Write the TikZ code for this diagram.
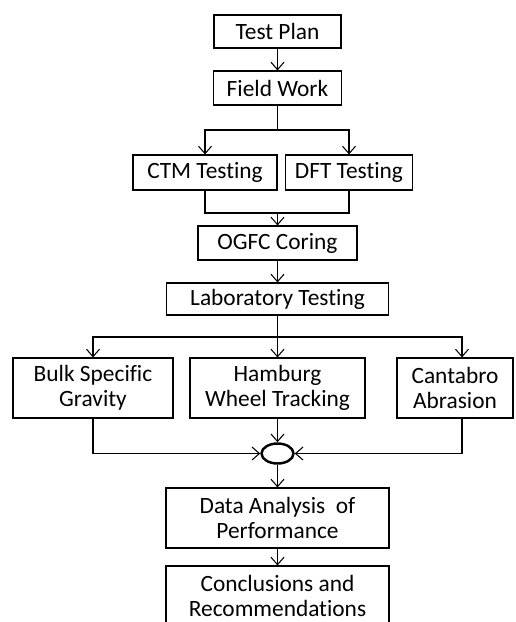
\documentclass[tikz,border=0pt]{standalone}
\usepackage{fontspec}
\setmainfont{Carlito}[Ligatures=NoCommon]
\usetikzlibrary{arrows.meta,shapes.geometric}
\begin{document}
\begin{tikzpicture}[x=0.02cm,y=-0.02cm,>={Straight Barb[length=1.5mm,width=2.6mm]},line width=0.6pt,
		font=\fontsize{13.3}{14.2}\selectfont,
		box/.style={draw,rectangle,inner sep=0pt,align=center},
		hub/.style={draw,ellipse,line width=1.4pt,minimum width=0.64cm,minimum height=0.40cm,inner sep=0pt}]
	\def\cx{277.5} % main column
	\useasboundingbox (0,0) rectangle (515,622);
	% field stage
	\node[box,minimum width=2.54cm,minimum height=0.66cm] (plan) at (\cx,31.5) {Test Plan};
	\node[box,minimum width=2.56cm,minimum height=0.68cm] (field) at (\cx,88) {Field Work};
	\node[box,minimum width=2.88cm,minimum height=0.70cm] (ctm) at (205,172.5) {CTM Testing};
	\node[box,minimum width=2.54cm,minimum height=0.70cm] (dft) at (349,172.5) {DFT Testing};
	\node[box,minimum width=3.18cm,minimum height=0.68cm] (ogfc) at (\cx,243) {OGFC Coring};
	% laboratory stage
	\node[box,minimum width=4.44cm,minimum height=0.64cm] (lab) at (\cx,299) {Laboratory Testing};
	\node[box,minimum width=3.20cm,minimum height=1.20cm] (bulk) at (93,388) {Bulk Specific\\Gravity};
	\node[box,minimum width=3.50cm,minimum height=1.20cm] (hamburg) at (\cx,388) {Hamburg\\Wheel Tracking};
	\node[box,minimum width=2.32cm,minimum height=1.20cm] (canta) at (455,388) {Cantabro\\Abrasion};
	\node[hub] (hub) at (\cx,453.5) {};
	\node[box,minimum width=4.46cm,minimum height=1.20cm] (data) at (\cx,518) {Data Analysis~ of\\Performance};
	\node[box,minimum width=4.46cm,minimum height=1.20cm] (concl) at (\cx,596) {Conclusions and\\Recommendations};
	% connectors
	\coordinate (fork1) at (\cx,130);
	\coordinate (join1) at (\cx,213);
	\coordinate (fork2) at (\cx,337);
	\draw[->] (plan.south) -- (field.north);
	\draw (field.south) -- (fork1);
	\draw[->] (fork1) -| (ctm.north);
	\draw[->] (fork1) -| (dft.north);
	\draw (ctm.south) |- (join1);
	\draw (dft.south) |- (join1);
	\draw[->] (join1) -- (ogfc.north);
	\draw[->] (ogfc.south) -- (lab.north);
	\draw (lab.south) -- (fork2);
	\draw[->] (fork2) -| (bulk.north);
	\draw[->] (fork2) -- (hamburg.north);
	\draw[->] (fork2) -| ([xshift=0.14cm]canta.north);
	\draw[->] (bulk.south) |- (hub.west);
	\draw[->] ([xshift=0.14cm]canta.south) |- (hub.east);
	\draw[->] (hamburg.south) -- (hub.north);
	\draw[->] (hub.south) -- (data.north);
	\draw[->] (data.south) -- (concl.north);
\end{tikzpicture}
\end{document}
